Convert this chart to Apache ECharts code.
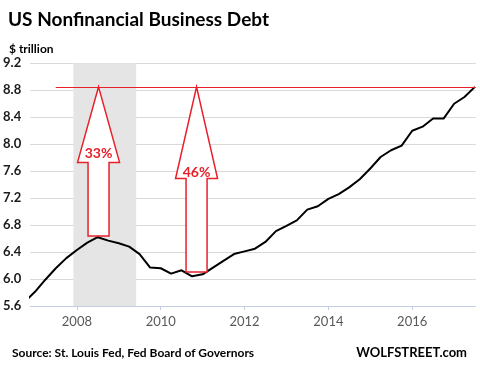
<!DOCTYPE html>
<html><head><meta charset="utf-8">
<script src="https://cdn.jsdelivr.net/npm/echarts@6/dist/echarts.min.js"></script>
<style>html,body{margin:0;padding:0;background:#fff}#c{width:480px;height:367px}</style>
</head><body><div id="c"></div>
<script>
// ---- data ----
const dates = ['2006-10-01','2007-01-01','2007-04-01','2007-07-01','2007-10-01',
  '2008-01-01','2008-04-01','2008-07-01','2008-10-01','2009-01-01','2009-04-01','2009-07-01','2009-10-01',
  '2010-01-01','2010-04-01','2010-07-01','2010-10-01','2011-01-01','2011-04-01','2011-07-01','2011-10-01',
  '2012-01-01','2012-04-01','2012-07-01','2012-10-01','2013-01-01','2013-04-01','2013-07-01','2013-10-01',
  '2014-01-01','2014-04-01','2014-07-01','2014-10-01','2015-01-01','2015-04-01','2015-07-01','2015-10-01',
  '2016-01-01','2016-04-01','2016-07-01','2016-10-01','2017-01-01','2017-04-01','2017-07-01'];
const debt = [5.66,5.81,5.99,6.16,6.31,
  6.43,6.54,6.62,6.57,6.53,6.48,6.37,6.17,
  6.16,6.08,6.13,6.04,6.07,6.17,6.27,6.37,
  6.41,6.45,6.55,6.71,6.79,6.87,7.03,7.08,
  7.19,7.26,7.36,7.48,7.64,7.81,7.91,7.98,
  8.20,8.26,8.38,8.38,8.60,8.70,8.85];
const xLabelYears = ['2008','2010','2012','2014','2016'];
const yTicks = [5.6,6.0,6.4,6.8,7.2,7.6,8.0,8.4,8.8,9.2];
const recession = ['2007-12-01','2009-06-01'];
const topLevel = 8.85;
const topLineStart = '2007-07-01';
// arrows
const arrowX = ['2008-07-08','2010-11-09'];
const arrowBottom = [6.637, 6.104];
const arrowHeadBase = [7.73, 7.49];
const arrowLabelAt = [7.855, 7.58];
const arrowLabels = ['33%','46%'];
const xMin = '2006-11-20', xMax = '2017-07-08';
// ---- helpers ----
function toYear(s){
  const p = s.split('-').map(Number);
  const start = Date.UTC(p[0],0,1), end = Date.UTC(p[0]+1,0,1);
  return p[0] + (Date.UTC(p[0],p[1]-1,p[2]) - start)/(end-start);
}
// ---- chart ----
const RED = '#e8202a';
const FONT = 'Lato';
const chart = echarts.init(document.getElementById('c'), null, {renderer:'canvas'});
const arrowData = arrowX.map((x,i)=>[toYear(x), arrowBottom[i], topLevel, arrowHeadBase[i], arrowLabelAt[i]]);
const tickVals = xLabelYears.map(Number);
chart.setOption({
  animation:false,
  backgroundColor:'#fff',
  textStyle:{fontFamily:FONT},
  title:[
    {text:'US Nonfinancial Business Debt', left:3, top:5, textStyle:{fontFamily:FONT,fontWeight:'bold',fontSize:19,color:'#000'}},
    {text:'$ trillion', left:4, top:38, textStyle:{fontFamily:FONT,fontWeight:'bold',fontSize:12,color:'#000'}},
    {text:'Source: St. Louis Fed, Fed Board of Governors', left:7, top:342, textStyle:{fontFamily:FONT,fontWeight:'bold',fontSize:12,color:'#000'}},
    {text:'WOLFSTREET.com', right:8, top:341, textStyle:{fontFamily:FONT,fontWeight:'bold',fontSize:13,color:'#000'}}
  ],
  grid:{left:29.3, right:4.3, top:63.3, bottom:61, containLabel:false},
  xAxis:{
    type:'value', min:toYear(xMin), max:toYear(xMax),
    axisLine:{show:true, lineStyle:{color:'#c3cde3', width:1}},
    axisTick:{show:true, length:4, lineStyle:{color:'#c3cde3'}, customValues:tickVals},
    axisLabel:{customValues:tickVals, margin:9, color:'#595959', fontSize:13, fontFamily:FONT,
      formatter:v=>String(Math.round(v))},
    splitLine:{show:false}
  },
  yAxis:{
    type:'value', min:yTicks[0], max:yTicks[yTicks.length-1], interval:0.4,
    axisLine:{show:false}, axisTick:{show:false},
    axisLabel:{margin:9, color:'#1a1a1a', fontWeight:'bold', fontSize:13, fontFamily:FONT, formatter:v=>v.toFixed(1)},
    splitLine:{lineStyle:{color:'#d9d9d9', width:1}}
  },
  series:[
    {
      type:'line', data:dates.map((d,i)=>[toYear(d),debt[i]]), showSymbol:false, symbol:'none',
      lineStyle:{color:'#000', width:2}, clip:true, z:3,
      markArea:{silent:true, itemStyle:{color:'#e5e5e5'}, data:[[{xAxis:toYear(recession[0])},{xAxis:toYear(recession[1])}]]},
      markLine:{silent:true, symbol:'none', label:{show:false}, lineStyle:{color:RED, width:1, type:'solid'},
        data:[[{coord:[toYear(topLineStart), topLevel]},{coord:[toYear(xMax), topLevel]}]]}
    },
    {
      type:'custom', z:5, data:arrowData,
      encode:{x:0, y:[1,2,3,4]},
      renderItem:function(params, api){
        const x = api.value(0);
        const b = api.coord([x, api.value(1)]);
        const t = api.coord([x, api.value(2)]);
        const h = api.coord([x, api.value(3)]);
        const l = api.coord([x, api.value(4)]);
        const cx = b[0], sw = 10.5, hw = 21;
        return {type:'group', children:[
          {type:'polygon', shape:{points:[[cx,t[1]],[cx+hw,h[1]],[cx+sw,h[1]],[cx+sw,b[1]],[cx-sw,b[1]],[cx-sw,h[1]],[cx-hw,h[1]]]},
            style:{fill:'#fff', stroke:RED, lineWidth:1.5}},
          {type:'text', x:cx, y:l[1], style:{text:arrowLabels[params.dataIndex], fill:RED, font:'bold 14px '+FONT, align:'center', verticalAlign:'middle'}}
        ]};
      }
    }
  ]
});
</script></body></html>
